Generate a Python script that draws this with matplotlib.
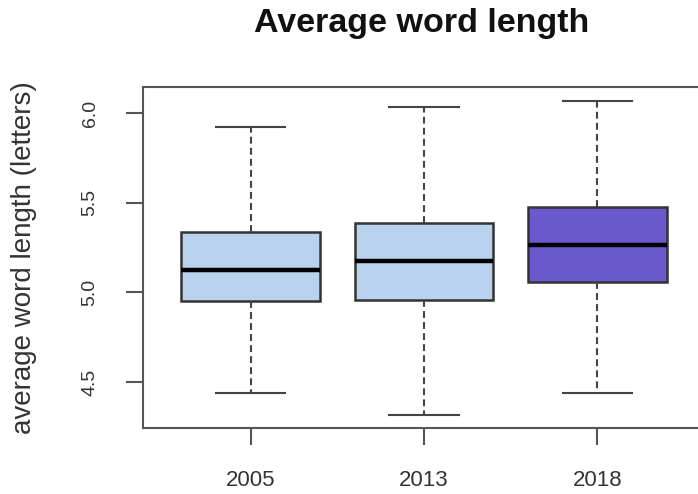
import numpy as np
import matplotlib
matplotlib.use('Agg')
import matplotlib.pyplot as plt

plt.rcParams['font.family'] = ['Liberation Sans', 'DejaVu Sans']

# word length summary per year (five-number summaries)
years = ['2005', '2013', '2018']
lower_whisker = [4.437, 4.316, 4.438]
q1 = [4.952, 4.959, 5.057]
median = [5.127, 5.174, 5.266]
q3 = [5.334, 5.387, 5.476]
upper_whisker = [5.924, 6.032, 6.069]
fill_colors = ['#B9D3EE', '#B9D3EE', '#6959CD']

stats = []
for i in range(len(years)):
    stats.append({'label': years[i], 'whislo': lower_whisker[i], 'q1': q1[i],
                  'med': median[i], 'q3': q3[i], 'whishi': upper_whisker[i],
                  'fliers': []})

fig = plt.figure(figsize=(6.98, 4.94), dpi=100)
ax = fig.add_axes([143 / 698, 1 - 428 / 494, 562 / 698, 341 / 494])

edge = '#444444'
bp = ax.bxp(stats, positions=[1, 2, 3], widths=0.8, patch_artist=True,
            showfliers=False,
            boxprops=dict(edgecolor='#333333', linewidth=1.8),
            medianprops=dict(color='black', linewidth=3.2, solid_capstyle='butt'),
            whiskerprops=dict(color=edge, linewidth=1.5, linestyle=(0, (3.3, 2))),
            capprops=dict(color=edge, linewidth=1.5),
            capwidths=0.4)
for patch, c in zip(bp['boxes'], fill_colors):
    patch.set_facecolor(c)

ax.set_xlim(0.38, 3.62)
ax.set_ylim(4.2435, 6.145)
ax.set_yticks([4.5, 5.0, 5.5, 6.0])
ax.set_yticklabels(['4.5', '5.0', '5.5', '6.0'])
ax.set_xticks([1, 2, 3])
ax.set_xticklabels(years)

for s in ax.spines.values():
    s.set_color('#555555')
    s.set_linewidth(1.5)

ax.tick_params(axis='y', length=12, width=1.5, color='#555555', labelsize=14,
               labelcolor='#333333', labelrotation=90, pad=20)
ax.tick_params(axis='x', length=12, width=1.5, color='#555555', labelsize=16,
               labelcolor='#333333', pad=18)
for lab in ax.get_yticklabels():
    lab.set_verticalalignment('center')

ax.set_ylabel('average word length (letters)', fontsize=20, color='#333333')
ax.yaxis.set_label_coords(-0.1886, 0.5)

fig.text(422 / 698, 1 - 32 / 494, 'Average word length', ha='center',
         va='baseline', fontsize=24.5, fontweight='bold', color='#111111')

fig.savefig('out.png', dpi=100)
